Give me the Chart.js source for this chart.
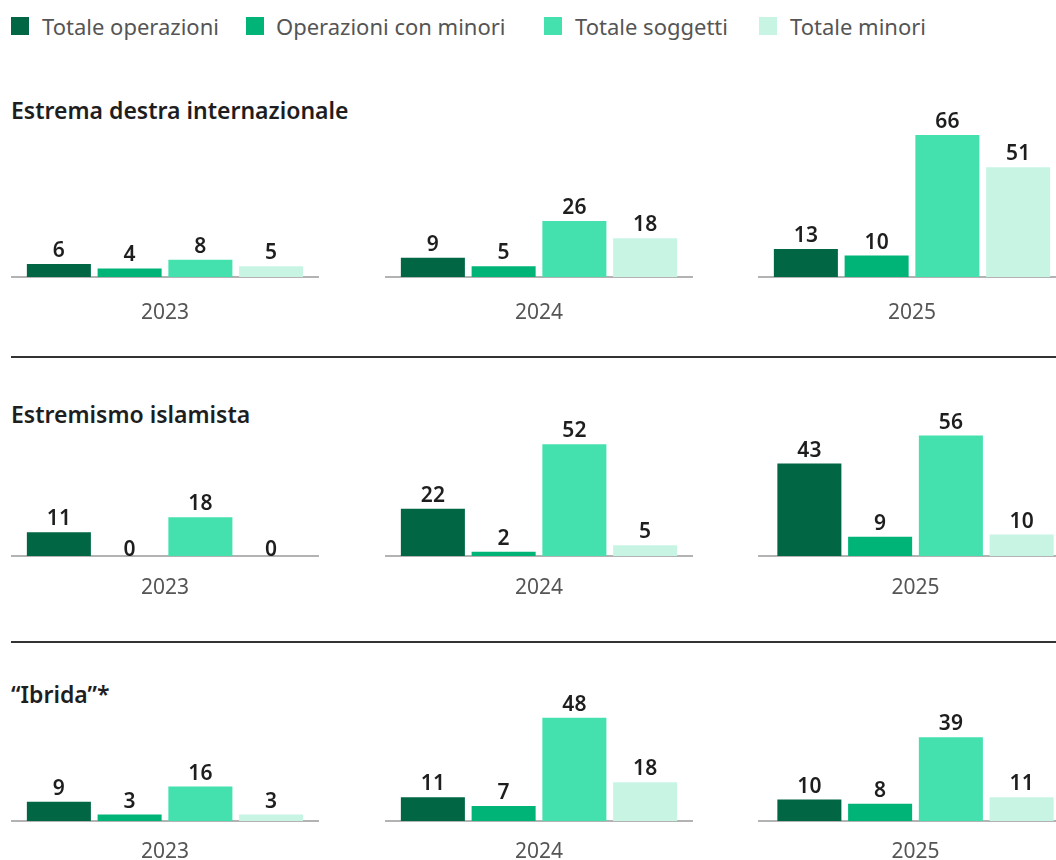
<!DOCTYPE html>
<html><head><meta charset="utf-8">
<script src="https://cdn.jsdelivr.net/npm/chart.js@4.4.1/dist/chart.umd.min.js"></script>
<style>
html,body{margin:0;padding:0;background:#fff;width:1056px;height:860px;overflow:hidden;font-family:"Noto Sans",sans-serif;}
#root{position:relative;width:1056px;height:860px;overflow:hidden;}
.sw{position:absolute;top:17px;width:18px;height:18px;}
.lt{position:absolute;top:15px;font-size:22px;line-height:1;color:#555;white-space:nowrap;}
.title{position:absolute;left:11px;font-weight:600;font-size:23px;line-height:1;color:#1e1e1e;white-space:nowrap;}
.sep{position:absolute;left:11px;width:1045px;height:2px;background:#333;}
canvas{position:absolute;}
</style></head><body>
<div id="root"></div>
<script>
// ---- data ----
const seriesNames = ["Totale operazioni", "Operazioni con minori", "Totale soggetti", "Totale minori"];
const groupTitles = ["Estrema destra internazionale", "Estremismo islamista", "\u201CIbrida\u201D*"];
const years = ["2023", "2024", "2025"];

const destraTotaleOperazioni = [6, 9, 13];
const destraOperazioniMinori = [4, 5, 10];
const destraTotaleSoggetti = [8, 26, 66];
const destraTotaleMinori = [5, 18, 51];

const islamTotaleOperazioni = [11, 22, 43];
const islamOperazioniMinori = [0, 2, 9];
const islamTotaleSoggetti = [18, 52, 56];
const islamTotaleMinori = [0, 5, 10];

const ibridaTotaleOperazioni = [9, 11, 10];
const ibridaOperazioniMinori = [3, 7, 8];
const ibridaTotaleSoggetti = [16, 48, 39];
const ibridaTotaleMinori = [3, 18, 11];

const groupSeries = [
  [destraTotaleOperazioni, destraOperazioniMinori, destraTotaleSoggetti, destraTotaleMinori],
  [islamTotaleOperazioni, islamOperazioniMinori, islamTotaleSoggetti, islamTotaleMinori],
  [ibridaTotaleOperazioni, ibridaOperazioniMinori, ibridaTotaleSoggetti, ibridaTotaleMinori]
];

// ---- styles / layout ----
const colors = ["#006644", "#00b478", "#44e1ae", "#c8f4e4"];
const FONT = '"Noto Sans", sans-serif';
const PX_PER_UNIT = 2.15;
const AREA_H = 190;
const rowBaselines = [277, 556, 821];
const rowAxisH = [50, 50, 39];
const rowTickPad = [23, 19, 18];
const titleTops = [99, 403, 683];
const sepTops = [356, 641];
const panelLefts = [11, 385, 758];
const panelWidths = [[308, 308, 308], [308, 308, 315], [308, 308, 315]];
const legendSwatchX = [11, 246, 544, 759];
const legendTextX = [42, 276, 575, 790];

const root = document.getElementById('root');

// legend
seriesNames.forEach((name, i) => {
  const s = document.createElement('div');
  s.className = 'sw'; s.style.left = legendSwatchX[i] + 'px'; s.style.background = colors[i];
  root.appendChild(s);
  const t = document.createElement('div');
  t.className = 'lt'; t.style.left = legendTextX[i] + 'px'; t.textContent = name;
  root.appendChild(t);
});

// titles & separators
groupTitles.forEach((g, r) => {
  const t = document.createElement('div');
  t.className = 'title'; t.style.top = titleTops[r] + 'px'; t.textContent = g;
  root.appendChild(t);
});
sepTops.forEach(y => {
  const d = document.createElement('div');
  d.className = 'sep'; d.style.top = y + 'px';
  root.appendChild(d);
});

const valueLabels = {
  id: 'valueLabels',
  afterDatasetsDraw(chart) {
    const ctx = chart.ctx;
    ctx.save();
    ctx.font = '600 21px ' + FONT;
    ctx.fillStyle = '#1e1e1e';
    ctx.textAlign = 'center';
    ctx.textBaseline = 'alphabetic';
    chart.data.datasets.forEach((ds, i) => {
      chart.getDatasetMeta(i).data.forEach((bar, j) => {
        const v = ds.data[j];
        const y = v === 0 ? bar.y : bar.y - 7;
        ctx.fillText(String(v), bar.x, y);
      });
    });
    ctx.restore();
  }
};

groupSeries.forEach((series, r) => {
  years.forEach((year, c) => {
    const W = panelWidths[r][c];
    const H = AREA_H + rowAxisH[r];
    const cv = document.createElement('canvas');
    cv.width = W; cv.height = H;
    cv.style.width = W + 'px'; cv.style.height = H + 'px';
    cv.style.left = panelLefts[c] + 'px';
    cv.style.top = (rowBaselines[r] - AREA_H) + 'px';
    root.appendChild(cv);
    const axisH = rowAxisH[r];
    new Chart(cv, {
      type: 'bar',
      data: {
        labels: [year],
        datasets: series.map((arr, i) => ({
          label: seriesNames[i],
          data: [arr[c]],
          backgroundColor: colors[i],
          borderWidth: 0,
          categoryPercentage: 283 / W,
          barPercentage: 0.905
        }))
      },
      options: {
        responsive: false,
        animation: false,
        layout: { padding: 0 },
        plugins: { legend: { display: false }, tooltip: { enabled: false } },
        scales: {
          x: {
            grid: { display: false, drawTicks: false },
            border: { display: true, color: '#b3b3b3', width: 2 },
            ticks: { color: '#555', font: { family: FONT, size: 21 }, padding: rowTickPad[r] },
            afterFit: s => { s.height = axisH; }
          },
          y: { display: false, min: 0, max: AREA_H / PX_PER_UNIT }
        }
      },
      plugins: [valueLabels]
    });
  });
});
</script>
</body></html>
